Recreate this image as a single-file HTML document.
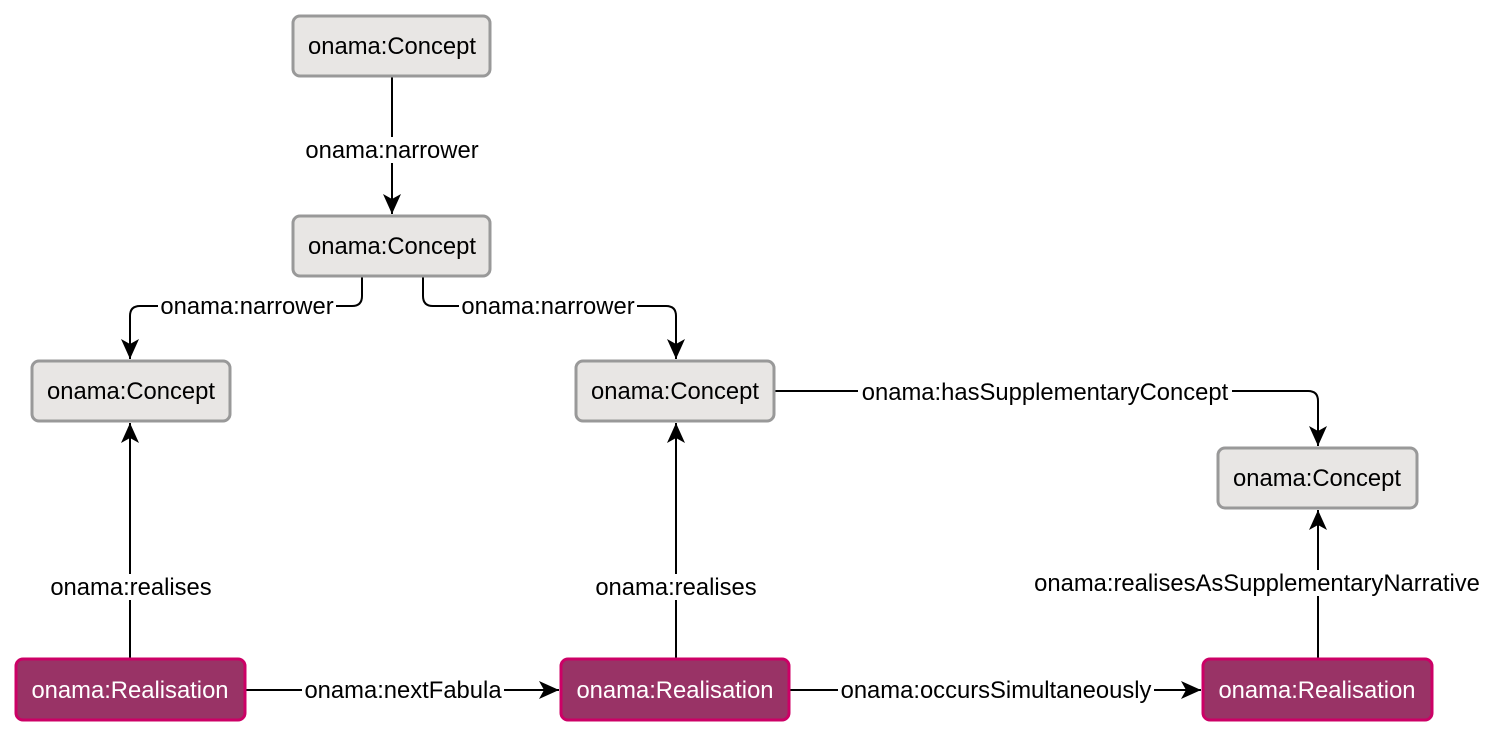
<!DOCTYPE html>
<html><head><style>html,body{margin:0;padding:0;background:#fff}svg text{font-family:"Liberation Sans",Arial,sans-serif;font-size:23.8px}</style></head><body>
<svg width="1504" height="738" xmlns="http://www.w3.org/2000/svg">
<defs>
<marker id="a" markerWidth="22" markerHeight="18" refX="20" refY="9" orient="auto" markerUnits="userSpaceOnUse">
<path d="M0,0 L20,9 L0,18 L5,9 Z" fill="#000"/>
</marker>
</defs>
<g fill="none" stroke="#000" stroke-width="2">
<path d="M392,76 V214" marker-end="url(#a)"/>
<path d="M362,276 V296 Q362,306 352,306 H140 Q130,306 130,316 V359" marker-end="url(#a)"/>
<path d="M423,276 V296 Q423,306 433,306 H666 Q676,306 676,316 V359" marker-end="url(#a)"/>
<path d="M774,391 H1308 Q1318,391 1318,401 V446" marker-end="url(#a)"/>
<path d="M130,659 V423" marker-end="url(#a)"/>
<path d="M676,659 V423" marker-end="url(#a)"/>
<path d="M1318,659 V510" marker-end="url(#a)"/>
<path d="M245,690 H559" marker-end="url(#a)"/>
<path d="M789,690 H1201" marker-end="url(#a)"/>
</g>
<g fill="#fff">
<rect x="303" y="137" width="178" height="26"/>
<rect x="158" y="293" width="178" height="26"/>
<rect x="459" y="293" width="178" height="26"/>
<rect x="858" y="379" width="374" height="26"/>
<rect x="48" y="574" width="166" height="26"/>
<rect x="594" y="574" width="166" height="26"/>
<rect x="1031" y="570" width="452" height="26"/>
<rect x="302" y="677" width="202" height="26"/>
<rect x="838" y="677" width="316" height="26"/>
</g>
<g text-anchor="middle" fill="#000">
<text x="392" y="158">onama:narrower</text>
<text x="247" y="314">onama:narrower</text>
<text x="548" y="314">onama:narrower</text>
<text x="1045" y="400">onama:hasSupplementaryConcept</text>
<text x="131" y="595">onama:realises</text>
<text x="676" y="595">onama:realises</text>
<text x="1257" y="591">onama:realisesAsSupplementaryNarrative</text>
<text x="403" y="698">onama:nextFabula</text>
<text x="996" y="698">onama:occursSimultaneously</text>
</g>
<g fill="#e8e6e4" stroke="#999" stroke-width="3">
<rect x="293" y="16" width="197" height="60" rx="7"/>
<rect x="293" y="216" width="197" height="60" rx="7"/>
<rect x="32" y="361" width="198" height="60" rx="7"/>
<rect x="576" y="361" width="198" height="60" rx="7"/>
<rect x="1218" y="448" width="199" height="60" rx="7"/>
</g>
<g fill="#993366" stroke="#cc0066" stroke-width="3">
<rect x="16" y="659" width="229" height="61" rx="7"/>
<rect x="561" y="659" width="228" height="61" rx="7"/>
<rect x="1203" y="659" width="229" height="61" rx="7"/>
</g>
<g text-anchor="middle" fill="#000">
<text x="392" y="54">onama:Concept</text>
<text x="392" y="254">onama:Concept</text>
<text x="131" y="399">onama:Concept</text>
<text x="675" y="399">onama:Concept</text>
<text x="1317" y="486">onama:Concept</text>
</g>
<g text-anchor="middle" fill="#fff">
<text x="130" y="698">onama:Realisation</text>
<text x="675" y="698">onama:Realisation</text>
<text x="1317" y="698">onama:Realisation</text>
</g>
</svg>
</body></html>
